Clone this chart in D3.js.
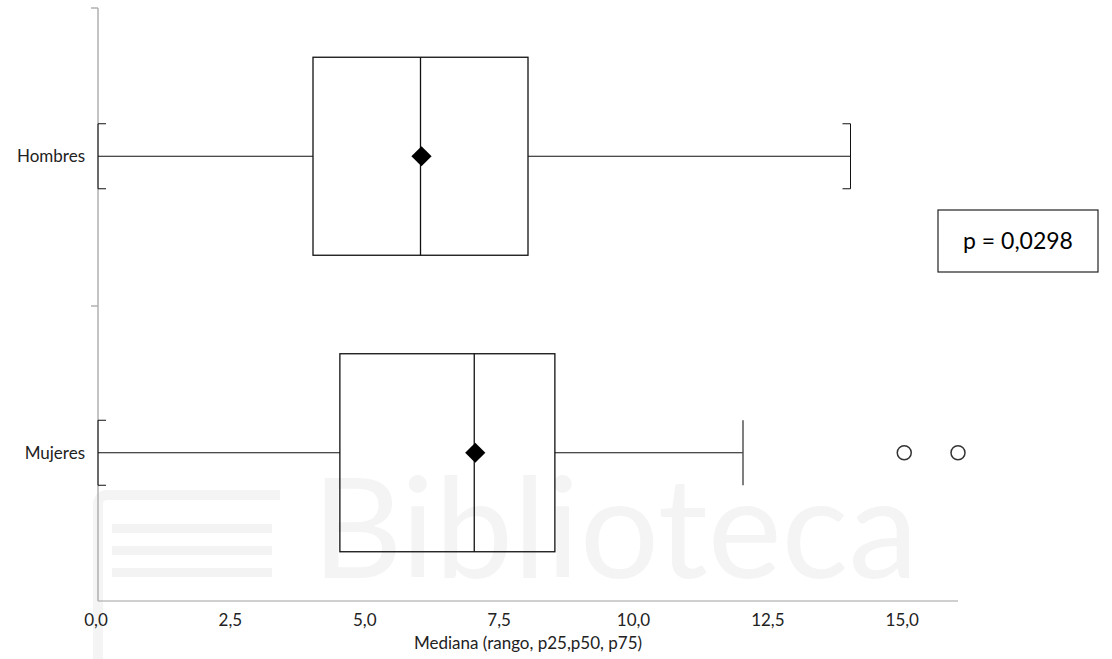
<!DOCTYPE html>
<html>
<head>
<meta charset="utf-8">
<script src="https://cdn.jsdelivr.net/npm/d3@7"></script>
<style>
  body { margin: 0; background: #fff; }
  text { font-family: Lato, "Open Sans", sans-serif; }
</style>
</head>
<body>
<svg width="1112" height="659"></svg>
<script>
// grupos y resumen (min, p25, p50, p75, max)
var grupos = ["Hombres", "Mujeres"];
var minimos = [0, 0];
var p25 = [4, 4.5];
var p50 = [6, 7];
var p75 = [8, 8.5];
var maximos = [14, 12];
var atipicos = [[], [15, 16]];
var xTicks = [0, 2.5, 5, 7.5, 10, 12.5, 15];

var svg = d3.select("svg");
var fmt = function(d) { return d3.format(".1f")(d).replace(".", ","); };

// marca de agua (muy tenue)
var wm = svg.append("g");
wm.append("text").attr("x", 312).attr("y", 578)
  .attr("fill", "#f4f4f4")
  .style("font-size", "140px")
  .text("Biblioteca");
[0, 1, 2].forEach(function(i) {
  wm.append("rect").attr("x", 112).attr("y", 524 + i * 22)
    .attr("width", 160).attr("height", 9).attr("fill", "#f3f3f3");
});
wm.append("path").attr("d", "M98,659 V505 Q98,495 108,495 H280")
  .attr("fill", "none").attr("stroke", "#f4f4f4").attr("stroke-width", 10);

var x = d3.scaleLinear().domain([0, 16]).range([98, 958]);
var y = d3.scaleBand().domain(grupos).range([8, 601]);

// ejes
svg.append("line").attr("x1", x(0)).attr("x2", x(16))
  .attr("y1", 601).attr("y2", 601).attr("stroke", "#a0a0a0");
svg.append("line").attr("x1", x(0)).attr("x2", x(0))
  .attr("y1", 8).attr("y2", 601).attr("stroke", "#b0b0b0").attr("stroke-width", 1.5);
[8, 306].forEach(function(t) {
  svg.append("line").attr("x1", 91).attr("x2", 98).attr("y1", t).attr("y2", t)
    .attr("stroke", "#b0b0b0").attr("stroke-width", 1.5);
});

svg.selectAll(".xt").data(xTicks).enter().append("text")
  .attr("x", function(d) { return x(d) - 2; })
  .attr("y", 626)
  .attr("text-anchor", "middle")
  .style("font-size", "17px").attr("fill", "#222")
  .text(fmt);

svg.selectAll(".yt").data(grupos).enter().append("text")
  .attr("x", 85)
  .attr("y", function(d) { return y(d) + y.bandwidth() / 2 + 6; })
  .attr("text-anchor", "end")
  .style("font-size", "17px").attr("fill", "#222")
  .text(function(d) { return d; });

svg.append("text").attr("x", 528).attr("y", 649)
  .attr("text-anchor", "middle").style("font-size", "17px").attr("fill", "#222")
  .text("Mediana (rango, p25,p50, p75)");

// cajas
var boxH = 198, capH = 65;
grupos.forEach(function(g, i) {
  var cy = y(g) + y.bandwidth() / 2;
  var gg = svg.append("g").attr("stroke", "#111").attr("fill", "none");
  gg.append("line").attr("x1", x(minimos[i])).attr("x2", x(p25[i]))
    .attr("y1", cy).attr("y2", cy);
  gg.append("line").attr("x1", x(p75[i])).attr("x2", x(maximos[i]))
    .attr("y1", cy).attr("y2", cy);
  gg.append("rect").attr("x", x(p25[i])).attr("y", cy - boxH / 2)
    .attr("width", x(p75[i]) - x(p25[i])).attr("height", boxH)
    .attr("stroke-width", 1.3);
  gg.append("line").attr("x1", x(p50[i])).attr("x2", x(p50[i]))
    .attr("y1", cy - boxH / 2).attr("y2", cy + boxH / 2).attr("stroke-width", 1.3);
  // bigotes
  gg.append("path")
    .attr("d", "M" + (x(minimos[i]) + 8) + "," + (cy - capH / 2) + "H" + x(minimos[i]) +
      "V" + (cy + capH / 2) + "H" + (x(minimos[i]) + 8));
  if (i === 0) {
    gg.append("path")
      .attr("d", "M" + (x(maximos[i]) - 8) + "," + (cy - capH / 2) + "H" + x(maximos[i]) +
        "V" + (cy + capH / 2) + "H" + (x(maximos[i]) - 8));
  } else {
    gg.append("line").attr("x1", x(maximos[i])).attr("x2", x(maximos[i]))
      .attr("y1", cy - capH / 2).attr("y2", cy + capH / 2)
      .attr("stroke", "#555").attr("stroke-width", 1.5);
  }
  // media
  svg.append("path")
    .attr("d", d3.symbol().type(d3.symbolDiamond2).size(260)())
    .attr("transform", "translate(" + (x(p50[i]) + 1) + "," + cy + ")")
    .attr("fill", "#000");
  // atipicos
  svg.selectAll(null).data(atipicos[i]).enter().append("circle")
    .attr("cx", function(d) { return x(d); })
    .attr("cy", cy)
    .attr("r", 7)
    .attr("fill", "none").attr("stroke", "#333").attr("stroke-width", 1.5);
});

// p valor
svg.append("rect").attr("x", 938).attr("y", 210).attr("width", 160).attr("height", 62)
  .attr("fill", "#fff").attr("stroke", "#222").attr("stroke-width", 1.2);
svg.append("text").attr("x", 1018).attr("y", 249).attr("text-anchor", "middle")
  .style("font-size", "23px").attr("fill", "#000").text("p = 0,0298");
</script>
</body>
</html>
